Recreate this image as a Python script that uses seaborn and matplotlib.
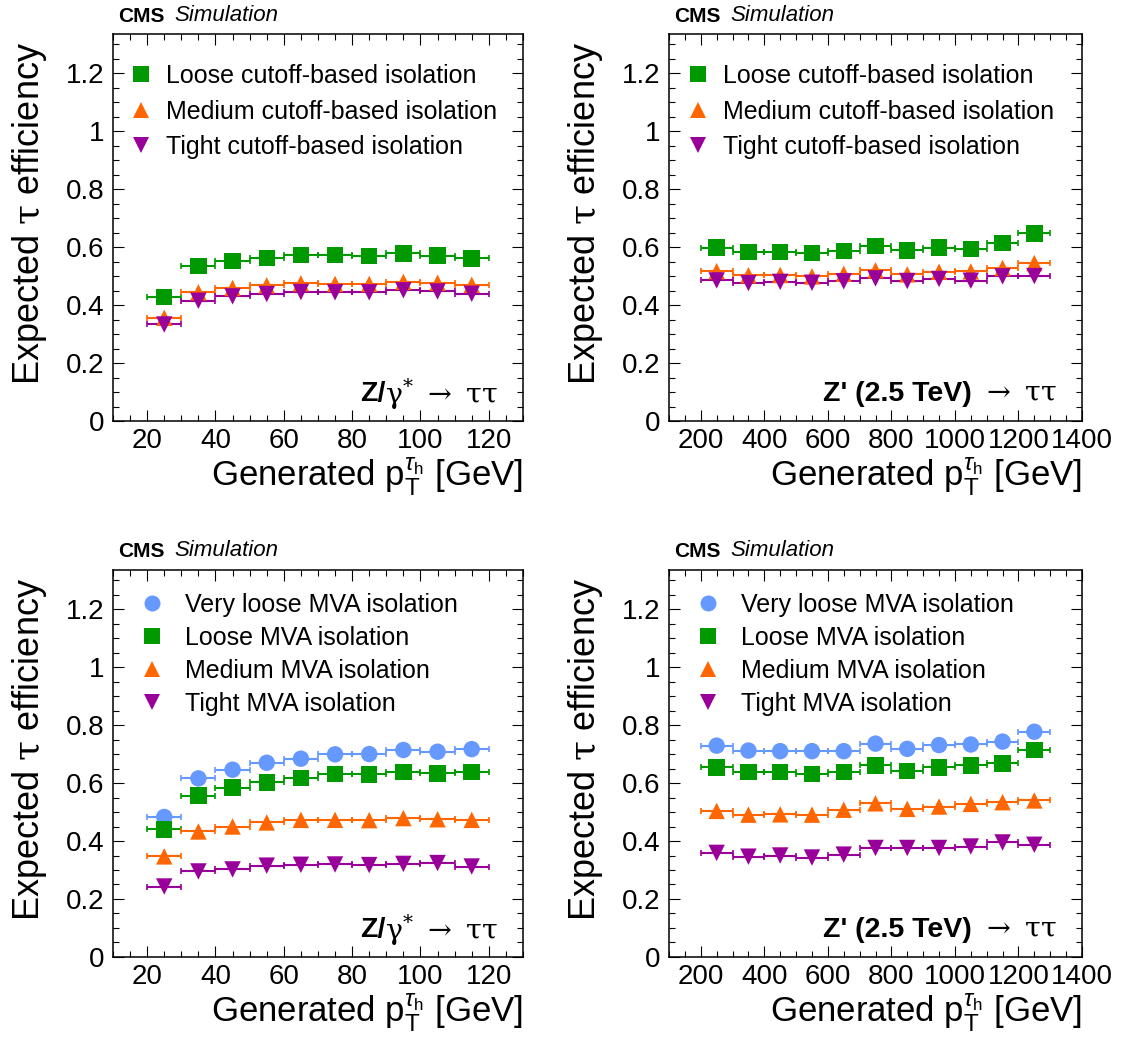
import matplotlib
matplotlib.use("Agg")
import matplotlib.pyplot as plt
from matplotlib.lines import Line2D
from matplotlib.ticker import MultipleLocator
import pandas as pd
import seaborn as sns

# generated tau pt bin centres and half widths
pt_z = [25, 35, 45, 55, 65, 75, 85, 95, 105, 115]
pt_zprime = [250, 350, 450, 550, 650, 750, 850, 950, 1050, 1150, 1250]
halfwidth_z = 5
halfwidth_zprime = 50

# cutoff-based isolation, Z/gamma* -> tautau
cut_loose_z = [0.427, 0.534, 0.553, 0.563, 0.572, 0.573, 0.570, 0.578, 0.571, 0.561]
cut_medium_z = [0.356, 0.444, 0.459, 0.468, 0.475, 0.473, 0.473, 0.480, 0.477, 0.470]
cut_tight_z = [0.333, 0.415, 0.430, 0.438, 0.445, 0.444, 0.444, 0.451, 0.447, 0.439]

# cutoff-based isolation, Z' (2.5 TeV) -> tautau
cut_loose_zp = [0.598, 0.583, 0.583, 0.579, 0.587, 0.604, 0.589, 0.598, 0.594, 0.614, 0.647]
cut_medium_zp = [0.517, 0.503, 0.504, 0.499, 0.508, 0.520, 0.506, 0.515, 0.516, 0.528, 0.545]
cut_tight_zp = [0.485, 0.476, 0.480, 0.477, 0.482, 0.492, 0.483, 0.490, 0.484, 0.499, 0.500]

# MVA isolation, Z/gamma* -> tautau
mva_vloose_z = [0.483, 0.616, 0.646, 0.670, 0.684, 0.699, 0.700, 0.714, 0.708, 0.717]
mva_loose_z = [0.440, 0.557, 0.584, 0.602, 0.617, 0.631, 0.630, 0.639, 0.633, 0.639]
mva_medium_z = [0.347, 0.433, 0.450, 0.464, 0.473, 0.473, 0.472, 0.479, 0.475, 0.473]
mva_tight_z = [0.243, 0.295, 0.302, 0.315, 0.318, 0.319, 0.317, 0.321, 0.324, 0.312]

# MVA isolation, Z' (2.5 TeV) -> tautau
mva_vloose_zp = [0.729, 0.712, 0.710, 0.710, 0.710, 0.736, 0.718, 0.731, 0.733, 0.743, 0.777]
mva_loose_zp = [0.654, 0.638, 0.639, 0.631, 0.638, 0.661, 0.641, 0.654, 0.661, 0.668, 0.714]
mva_medium_zp = [0.504, 0.491, 0.492, 0.491, 0.508, 0.530, 0.511, 0.519, 0.528, 0.534, 0.540]
mva_tight_zp = [0.359, 0.346, 0.350, 0.343, 0.353, 0.376, 0.376, 0.376, 0.381, 0.395, 0.387]

cut_labels = ["Loose cutoff-based isolation", "Medium cutoff-based isolation",
              "Tight cutoff-based isolation"]
mva_labels = ["Very loose MVA isolation", "Loose MVA isolation",
              "Medium MVA isolation", "Tight MVA isolation"]

BLUE, GREEN, ORANGE, PURPLE = "#6699ff", "#009900", "#ff6600", "#990099"

sns.set_theme(style="ticks")
plt.rcParams["font.family"] = ["Liberation Sans", "DejaVu Sans"]
plt.rcParams["mathtext.fontset"] = "custom"
plt.rcParams["mathtext.rm"] = "Liberation Sans"
plt.rcParams["mathtext.it"] = "Liberation Sans:italic"
plt.rcParams["mathtext.bf"] = "Liberation Sans:bold"
plt.rcParams["axes.linewidth"] = 1.1
plt.rcParams["text.color"] = "black"
plt.rcParams["axes.labelcolor"] = "black"
plt.rcParams["axes.edgecolor"] = "black"

fig = plt.figure(figsize=(11.21, 10.64), dpi=100)


def panel(rect, pt, hw, series, xlim, major, minor, bold_part, rest_part,
          leg_anchor, leg_spacing, leg_textpad):
    ax = fig.add_axes(rect)
    rows = []
    for lab, vals, mk, col in series:
        for x, y in zip(pt, vals):
            rows.append({"pt": x, "eff": y, "wp": lab})
    df = pd.DataFrame(rows)
    labs = [s[0] for s in series]
    for lab, vals, mk, col in series:
        ax.errorbar(pt, vals, xerr=hw, fmt="none", ecolor=col, elinewidth=1.5,
                    capsize=2, capthick=1.2, zorder=2)
    sns.scatterplot(data=df, x="pt", y="eff", hue="wp", style="wp",
                    hue_order=labs, style_order=labs,
                    palette={s[0]: s[3] for s in series},
                    markers={s[0]: s[2] for s in series},
                    s=140, linewidth=0, legend=False, zorder=3, ax=ax)
    ax.set_xlim(*xlim)
    ax.set_ylim(0, 1.335)
    ax.xaxis.set_major_locator(MultipleLocator(major))
    ax.xaxis.set_minor_locator(MultipleLocator(minor))
    ax.yaxis.set_major_locator(MultipleLocator(0.2))
    ax.yaxis.set_minor_locator(MultipleLocator(0.05))
    ax.yaxis.set_major_formatter(matplotlib.ticker.FuncFormatter(
        lambda v, p: f"{v:.1f}".rstrip("0").rstrip(".") if v else "0"))
    ax.tick_params(which="both", direction="in", top=True, right=True,
                   width=0.8, labelsize=20, colors="black")
    ax.tick_params(which="major", length=8, pad=6)
    ax.tick_params(axis="x", which="major", pad=5)
    ax.tick_params(which="minor", length=4)
    for sp in ax.spines.values():
        sp.set_visible(True)
        sp.set_color("black")
    ax.set_xlabel(r"Generated $\mathrm{p}_{\mathrm{T}}^{\tau_{\mathrm{h}}}$ [GeV]",
                  fontsize=25)
    ax.xaxis.set_label_coords(1.0, -0.09)
    ax.xaxis.label.set_ha("right")
    ax.xaxis.label.set_va("top")
    ax.set_ylabel(r"Expected $\mathrm{\tau}$ efficiency", fontsize=26)
    ax.yaxis.label.set_math_fontfamily("dejavuserif")
    ax.yaxis.set_label_coords(-0.155, 0.98)
    ax.yaxis.label.set_ha("right")

    handles = [Line2D([], [], ls="none", marker=s[2], color=s[3],
                      markersize=11.5, markeredgewidth=0) for s in series]
    ax.legend(handles, labs, loc="upper left", bbox_to_anchor=leg_anchor,
              frameon=False, fontsize=18, handlelength=0.9,
              handletextpad=leg_textpad, labelspacing=leg_spacing,
              borderaxespad=0, borderpad=0)

    t = ax.text(0.94, 0.07, rest_part, transform=ax.transAxes, ha="right",
                va="center", fontsize=20.5, math_fontfamily="dejavuserif")
    ax.annotate(bold_part, xy=(0, 0.5), xycoords=t, ha="right", va="center",
                fontsize=20.5, fontweight="bold")

    c = ax.text(0.012, 1.022, "CMS", transform=ax.transAxes, ha="left",
                va="bottom", fontsize=15, fontweight="bold")
    ax.annotate("Simulation", xy=(1, 0), xycoords=c, xytext=(7, 0),
                textcoords="offset points", ha="left", va="bottom",
                fontsize=16, fontstyle="italic")
    return ax


z_bold, z_rest = "Z/", r"$\mathrm{\gamma}^{*}\ \rightarrow\ \mathrm{\tau\tau}$"
zp_bold, zp_rest = "Z' (2.5 TeV)", r"$\ \rightarrow\ \mathrm{\tau\tau}$"

panel([0.1008, 0.6043, 0.3657, 0.3637], pt_z, halfwidth_z,
      [(cut_labels[0], cut_loose_z, "s", GREEN),
       (cut_labels[1], cut_medium_z, "^", ORANGE),
       (cut_labels[2], cut_tight_z, "v", PURPLE)],
      (10, 130), 20, 5, z_bold, z_rest, (0.042, 0.922), 0.46, 0.55)

panel([0.5968, 0.6043, 0.3684, 0.3637], pt_zprime, halfwidth_zprime,
      [(cut_labels[0], cut_loose_zp, "s", GREEN),
       (cut_labels[1], cut_medium_zp, "^", ORANGE),
       (cut_labels[2], cut_tight_zp, "v", PURPLE)],
      (100, 1400), 200, 50, zp_bold, zp_rest, (0.042, 0.922), 0.46, 0.55)

panel([0.1008, 0.1006, 0.3657, 0.3637], pt_z, halfwidth_z,
      [(mva_labels[0], mva_vloose_z, "o", BLUE),
       (mva_labels[1], mva_loose_z, "s", GREEN),
       (mva_labels[2], mva_medium_z, "^", ORANGE),
       (mva_labels[3], mva_tight_z, "v", PURPLE)],
      (10, 130), 20, 5, z_bold, z_rest, (0.067, 0.94), 0.36, 0.87)

panel([0.5968, 0.1006, 0.3684, 0.3637], pt_zprime, halfwidth_zprime,
      [(mva_labels[0], mva_vloose_zp, "o", BLUE),
       (mva_labels[1], mva_loose_zp, "s", GREEN),
       (mva_labels[2], mva_medium_zp, "^", ORANGE),
       (mva_labels[3], mva_tight_zp, "v", PURPLE)],
      (100, 1400), 200, 50, zp_bold, zp_rest, (0.067, 0.94), 0.36, 0.87)

plt.savefig("out.png", dpi=100)
